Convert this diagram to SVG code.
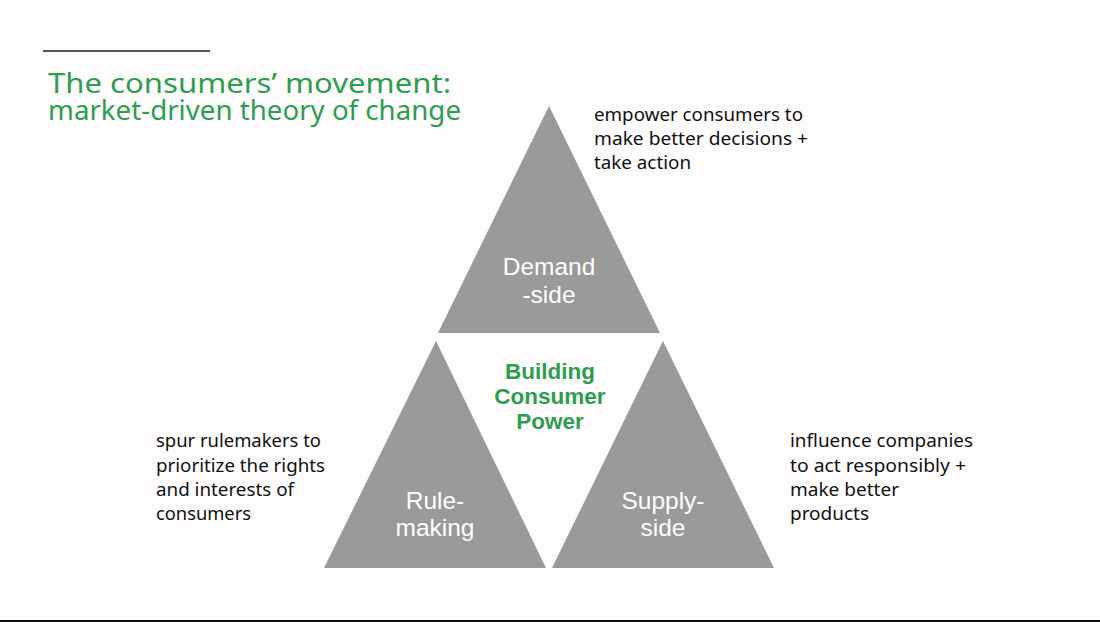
<svg xmlns="http://www.w3.org/2000/svg" width="1100" height="622" viewBox="0 0 1100 622">
<style>
.tri{fill:#9a9a9a}
.lbl{font-family:"Liberation Sans",Arial,sans-serif;font-size:24.5px;fill:#ffffff;text-anchor:middle}
.body{font-family:"Noto Sans","Lato",sans-serif;font-size:18px;fill:#111111}
.title{font-family:"Noto Sans","Lato",sans-serif;font-size:28px;fill:#2e9d4f}
.center{font-family:"Liberation Sans",Arial,sans-serif;font-size:22.5px;font-weight:bold;fill:#2e9d4f;text-anchor:middle}
</style>
<rect width="1100" height="622" fill="#fefcfd"/>
<line x1="43" y1="51" x2="210" y2="51" stroke="#555555" stroke-width="2"/>
<line x1="0" y1="621" x2="1100" y2="621" stroke="#111111" stroke-width="2"/>
<text class="title" x="48" y="93" textLength="403" lengthAdjust="spacingAndGlyphs">The consumers’ movement:</text>
<text class="title" x="48" y="120" textLength="413" lengthAdjust="spacingAndGlyphs">market-driven theory of change</text>
<g id="demand">
<polygon class="tri" points="549,106 660,333 438,333"/>
<text class="lbl" x="549" y="275">Demand</text>
<text class="lbl" x="549" y="303">-side</text>
</g>
<g id="rulemaking">
<polygon class="tri" points="436,341 546,568 324,568"/>
<text class="lbl" x="435" y="509">Rule-</text>
<text class="lbl" x="435" y="536">making</text>
</g>
<g id="supply">
<polygon class="tri" points="663,341 774,568 552,568"/>
<text class="lbl" x="663" y="509">Supply-</text>
<text class="lbl" x="663" y="536">side</text>
</g>
<g id="core">
<text class="center" x="550" y="379">Building</text>
<text class="center" x="550" y="404">Consumer</text>
<text class="center" x="550" y="429">Power</text>
</g>
<g id="notes">
<text class="body" x="594" y="121" textLength="209" lengthAdjust="spacingAndGlyphs">empower consumers to</text>
<text class="body" x="594" y="145" textLength="214" lengthAdjust="spacingAndGlyphs">make better decisions +</text>
<text class="body" x="594" y="169" textLength="97" lengthAdjust="spacingAndGlyphs">take action</text>
<text class="body" x="156" y="447" textLength="165" lengthAdjust="spacingAndGlyphs">spur rulemakers to</text>
<text class="body" x="156" y="472" textLength="169" lengthAdjust="spacingAndGlyphs">prioritize the rights</text>
<text class="body" x="156" y="496" textLength="138" lengthAdjust="spacingAndGlyphs">and interests of</text>
<text class="body" x="156" y="520" textLength="95" lengthAdjust="spacingAndGlyphs">consumers</text>
<text class="body" x="790" y="447" textLength="183" lengthAdjust="spacingAndGlyphs">influence companies</text>
<text class="body" x="790" y="472" textLength="176" lengthAdjust="spacingAndGlyphs">to act responsibly +</text>
<text class="body" x="790" y="496" textLength="109" lengthAdjust="spacingAndGlyphs">make better</text>
<text class="body" x="790" y="520" textLength="79" lengthAdjust="spacingAndGlyphs">products</text>
</g>
<g id="connectors"/>
</svg>
